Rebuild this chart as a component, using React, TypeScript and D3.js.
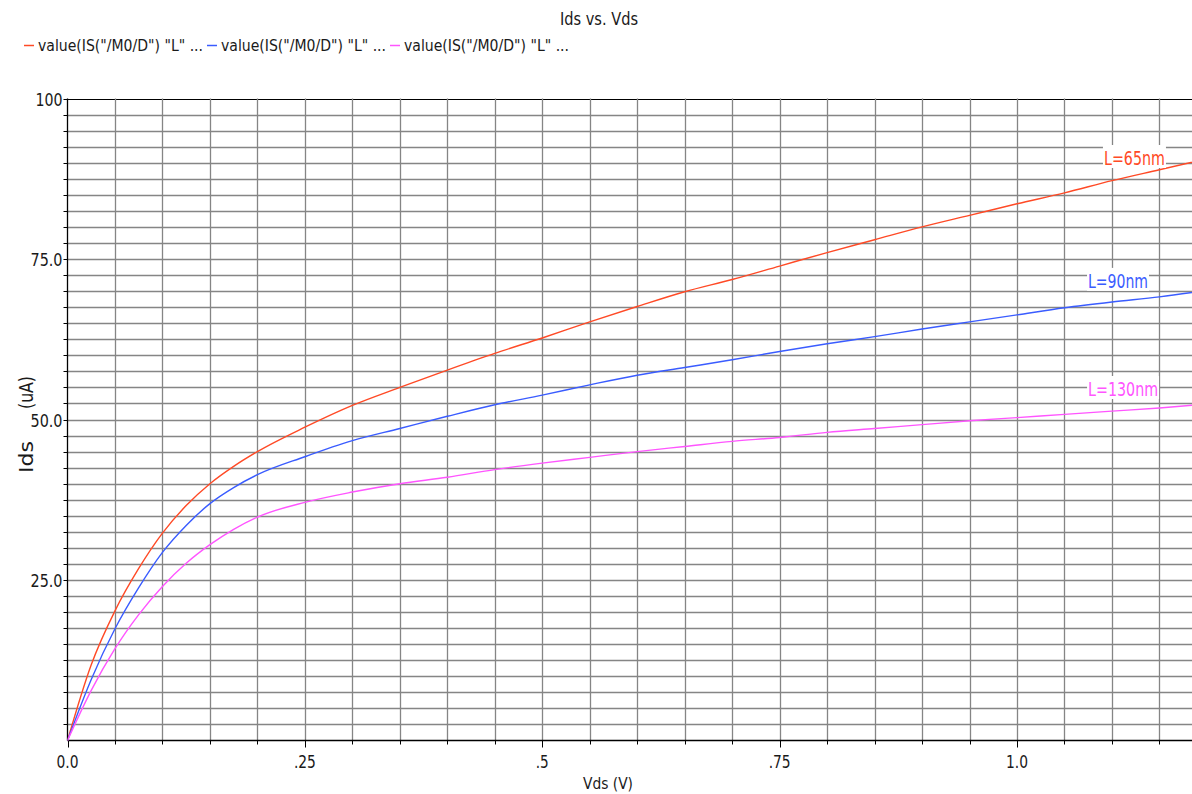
import React from "react";
import * as d3 from "d3";

const vds = [0, 0.025, 0.05, 0.075, 0.1, 0.125, 0.15, 0.175, 0.2, 0.25, 0.3, 0.35, 0.4, 0.45, 0.5, 0.55, 0.6, 0.65, 0.7, 0.75, 0.8, 0.85, 0.9, 0.95, 1.0, 1.05, 1.1, 1.15, 1.2];
const idsL65 = [0, 11.8, 20.2, 26.8, 32.3, 36.6, 40.0, 42.7, 45.0, 48.8, 52.2, 55.0, 57.7, 60.3, 62.7, 65.2, 67.6, 69.9, 71.8, 73.9, 76.0, 78.0, 80.0, 81.8, 83.6, 85.3, 87.2, 88.9, 90.6];
const idsL90 = [0, 9.5, 17.4, 23.8, 29.3, 33.5, 36.9, 39.4, 41.4, 44.2, 46.7, 48.6, 50.5, 52.3, 53.8, 55.4, 56.9, 58.1, 59.3, 60.6, 61.8, 62.9, 64.1, 65.2, 66.3, 67.4, 68.3, 69.1, 70.1];
const idsL130 = [0, 7.8, 14.3, 19.6, 24.0, 27.6, 30.5, 32.9, 34.8, 37.1, 38.7, 40.0, 41.0, 42.2, 43.2, 44.1, 45.0, 45.8, 46.6, 47.2, 48.0, 48.6, 49.2, 49.8, 50.3, 50.8, 51.3, 51.8, 52.4];

const seriesNames = ["L=65nm", "L=90nm", "L=130nm"];
const seriesColors = ["#ff4a26", "#3a5cff", "#ff55ff"];
const legendText = 'value(IS("/M0/D") "L" ...';
const xTickLabels = ["0.0", ".25", ".5", ".75", "1.0"];
const xTickValues = [0, 0.25, 0.5, 0.75, 1.0];
const yTickLabels = ["25.0", "50.0", "75.0", "100"];
const yTickValues = [25, 50, 75, 100];
const titleText = "Ids vs. Vds";
const xAxisTitle = "Vds (V)";
const yAxisTitleA = "Ids";
const yAxisTitleB = " (uA)";

const W = 1192;
const H = 794;
const FONT = "'DejaVu Sans Condensed', 'DejaVu Sans', sans-serif";

function NarrowText(props: { x: number; y: number; size: number; anchor?: "start" | "middle" | "end"; fill?: string; children: string; width: number; transform?: string }) {
  const { x, y, size, anchor = "start", fill = "#1a1a1a", children, width, transform } = props;
  return (
    <text x={x} y={y} fontSize={size} textAnchor={anchor} fill={fill} textLength={width} lengthAdjust="spacingAndGlyphs" transform={transform}>
      {children}
    </text>
  );
}

export default function App() {
  const left = 67.5;
  const top = 98.5;
  const bottom = 740.5;
  const right = 1192;
  const pxPerV = 949.5;
  const x = d3.scaleLinear().domain([0, 1]).range([left, left + pxPerV]);
  const y = d3.scaleLinear().domain([0, 100]).range([bottom, top]);
  const xMax = x.invert(right);

  const vGrid = d3.range(0.05, xMax, 0.05);
  const hGrid = d3.range(2.5, 100.01, 2.5);
  const allSeries = [idsL65, idsL90, idsL130];
  const line = d3
    .line<number>()
    .x((_, i) => x(vds[i]))
    .y((d) => y(d))
    .curve(d3.curveMonotoneX);

  const labelPos = [
    { v: 1.1237, val: 89.64 },
    { v: 1.1064, val: 70.5 },
    { v: 1.1117, val: 53.66 },
  ];
  const labelWidths = [61, 60, 70];

  return (
    <svg width={W} height={H} style={{ position: "absolute", left: 0, top: 0, background: "#fff" }} fontFamily={FONT}>
      <defs>
        <clipPath id="plotClip">
          <rect x={left} y={top - 1} width={right - left} height={bottom - top + 2} />
        </clipPath>
      </defs>
      <rect x={0} y={0} width={W} height={H} fill="#fff" />
      {/* title */}
      <NarrowText x={599} y={25} size={17} anchor="middle" width={78}>{titleText}</NarrowText>
      {/* legend */}
      {seriesColors.map((c, i) => {
        const lx = 24 + i * 183;
        return (
          <g key={i}>
            <line x1={lx} x2={lx + 10} y1={45.5} y2={45.5} stroke={c} strokeWidth={1.5} />
            <NarrowText x={lx + 14} y={51} size={16} width={165}>{legendText}</NarrowText>
          </g>
        );
      })}
      {/* grid */}
      {hGrid.map((v) => (
        <line key={"h" + v} x1={left} x2={right} y1={Math.round(y(v)) + 0.5} y2={Math.round(y(v)) + 0.5} stroke={v === 100 ? "#000" : "#858585"} strokeWidth={v === 100 ? 1.2 : 1.3} />
      ))}
      {vGrid.map((v) => (
        <line key={"v" + v} x1={Math.round(x(v)) + 0.5} x2={Math.round(x(v)) + 0.5} y1={top} y2={bottom} stroke="#858585" strokeWidth={1.3} />
      ))}
      {/* axes */}
      <line x1={left} x2={left} y1={top} y2={bottom} stroke="#000" strokeWidth={1.3} />
      <line x1={left} x2={right} y1={bottom} y2={bottom} stroke="#000" strokeWidth={1.3} />
      {hGrid.map((v) => (
        <line key={"yt" + v} x1={left - 4} x2={left} y1={Math.round(y(v)) + 0.5} y2={Math.round(y(v)) + 0.5} stroke="#000" strokeWidth={1} />
      ))}
      {[0, ...vGrid].map((v, i) => {
        const major = Math.abs(v / 0.25 - Math.round(v / 0.25)) < 1e-6;
        return (
          <line key={"xt" + i} x1={Math.round(x(v)) + 0.5} x2={Math.round(x(v)) + 0.5} y1={bottom} y2={bottom + (major ? 7 : 4)} stroke="#000" strokeWidth={1} />
        );
      })}
      {yTickValues.map((v, i) => (
        <NarrowText key={"yl" + v} x={left - 5} y={y(v) + 7} size={18} anchor="end" width={yTickLabels[i].length === 3 ? 27 : 32}>{yTickLabels[i]}</NarrowText>
      ))}
      {xTickValues.map((v, i) => (
        <NarrowText key={"xl" + v} x={x(v)} y={768} size={18} anchor="middle" width={xTickLabels[i].length === 2 ? 13 : 22}>{xTickLabels[i]}</NarrowText>
      ))}
      <NarrowText x={608} y={789} size={16} anchor="middle" width={50}>{xAxisTitle}</NarrowText>
      <text transform="translate(33,473) rotate(-90)" fontSize={20} fill="#1a1a1a">
        <tspan x={0} y={0} textLength={32} lengthAdjust="spacingAndGlyphs">{yAxisTitleA}</tspan>
        <tspan x={59} y={0} textLength={38} lengthAdjust="spacingAndGlyphs" style={{ whiteSpace: "pre" }}>{yAxisTitleB}</tspan>
      </text>
      {/* curves */}
      <g clipPath="url(#plotClip)">
        {allSeries.map((s, i) => (
          <path key={"s" + i} d={line(s) || ""} fill="none" stroke={seriesColors[i]} strokeWidth={1.4} />
        ))}
      </g>
      {/* series labels */}
      {seriesNames.map((n, i) => {
        const cx = x(labelPos[i].v);
        const by = y(labelPos[i].val);
        const w = labelWidths[i];
        return (
          <g key={"lab" + i}>
            <rect x={cx - w / 2 - 1} y={by - 20} width={w + 2} height={23} fill="#fff" />
            <NarrowText x={cx} y={by} size={20} anchor="middle" fill={seriesColors[i]} width={w}>{n}</NarrowText>
          </g>
        );
      })}
    </svg>
  );
}
